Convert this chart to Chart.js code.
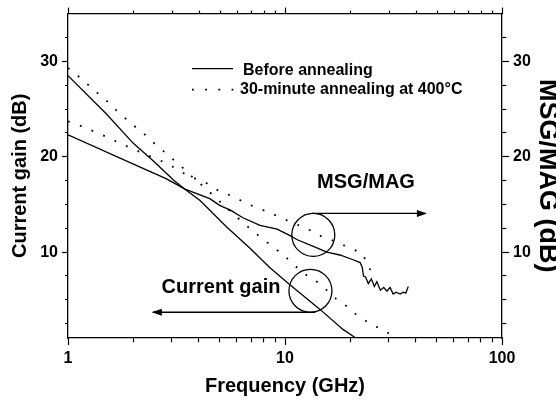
<!DOCTYPE html>
<html>
<head>
<meta charset="utf-8">
<script src="https://cdn.jsdelivr.net/npm/chart.js@4/dist/chart.umd.min.js"></script>
<style>
	body { margin: 0; background: #fff; }
	#wrap { width: 556px; height: 402px; }
</style>
</head>
<body>
<div id="wrap"><canvas id="gain" width="556" height="402"></canvas></div>
<script>
// values (GHz / dB)

var cgBeforeF = [1, 1.5, 2, 2.46, 3.08, 3.46, 4.06, 5.4, 6.9, 8.5, 10.5, 14.5, 18.5, 21.2];
var cgBeforeG = [28.5, 24.5, 21.4, 19.6, 17.5, 16.6, 15.4, 12.6, 10.4, 8.4, 6.6, 4.0, 1.9, 1.0];

var msgBeforeF = [1, 2.15, 2.83, 3.46, 4.5, 5.0, 5.6, 6.4, 7.67, 9.2, 10.6, 11.4, 13.5, 15.6, 17.9, 20.6, 22.2, 22.7, 23.0,
	23.5, 24.2, 25.0, 25.8, 26.5, 27.5, 28.5, 29.5, 30.5, 31.5, 32.5, 34, 35, 36, 37];
var msgBeforeG = [22.3, 18.9, 17.7, 16.6, 15.6, 14.9, 14.4, 13.6, 12.8, 12.4, 11.7, 11.3, 10.6, 10.0, 9.7, 9.2, 8.9, 8.4, 7.5,
	7.4, 6.7, 7.2, 6.4, 6.9, 6.0, 6.3, 5.9, 6.3, 5.6, 5.8, 5.6, 5.8, 5.7, 6.4];

var cgAfterF = [1, 1.15, 1.3, 1.5, 1.7, 1.95, 2.24, 2.54, 2.92, 3.32, 3.77, 4.3, 4.9, 6.4, 7.3, 8.4, 9.6, 10.8, 12.1, 13.7,
	15.6, 17.2, 19.3, 21.4, 23.9, 26.8, 29.5, 32.1];
var cgAfterG = [29.3, 28.2, 27.1, 25.9, 24.7, 23.5, 22.4, 21.25, 20.1, 19.0, 17.8, 16.7, 15.5, 13.1, 12.0, 10.9, 9.9, 8.85, 7.8, 7.1,
	6.0, 5.1, 4.3, 3.4, 2.7, 2.1, 1.6, 1.1];

var msgAfterF = [1, 1.15, 1.3, 1.5, 1.7, 1.95, 2.54, 2.92, 3.32, 3.77, 4.3, 4.9, 5.65, 6.4, 7.3, 8.4, 9.6, 11, 12.6, 14.1,
	16.1, 18.3, 20.6, 22.9, 24.1, 26.2];
var msgAfterG = [23.7, 23.2, 22.7, 22.1, 21.5, 20.9, 19.8, 19.2, 18.4, 17.8, 17.3, 16.5, 15.9, 15.3, 14.7, 14.2, 13.6, 13.0, 12.5, 11.8,
	11.35, 10.8, 10.3, 9.8, 8.4, 7.7];

var xTicks = [1, 2, 3, 4, 5, 6, 7, 8, 9, 10, 20, 30, 40, 50, 60, 70, 80, 90, 100];
var xLabels = [1, 10, 100];
var yTicks = [2.5, 5, 7.5, 10, 12.5, 15, 17.5, 20, 22.5, 25, 27.5, 30, 32.5];
var yLabels = [10, 20, 30];

var FONT = "'Liberation Sans', Arial, sans-serif";

function pts(fs, gs) {
	return fs.map((f, i) => ({x: f, y: gs[i]}));
}

function solid(label, fs, gs) {
	return {label: label, data: pts(fs, gs), borderColor: '#000', borderWidth: 1.3,
		pointRadius: 0, tension: 0, fill: false};
}

function dotted(label, fs, gs) {
	var d = solid(label, fs, gs);
	d.borderWidth = 1.8;
	d.borderDash = [1.8, 10.8];
	return d;
}

// chart.js draws left/top tick marks from the outer end inwards, bottom/right from the axis out
function minorDash(pos, len, minor) {
	return (pos == 'left' || pos == 'top') ? [0, len - minor, minor, 40] : [minor, 40];
}

function xAxis(pos, len, minor, labels, size) {
	return {
		type: 'logarithmic', position: pos, min: 1, max: 100,
		afterBuildTicks: (s) => { s.ticks = xTicks.map(v => ({value: v})); },
		afterFit: (s) => { s.height = size; },
		ticks: {autoSkip: false, maxRotation: 0, padding: 4, color: '#000',
			font: {family: FONT, size: 16, weight: 'bold'},
			callback: (v) => labels && xLabels.indexOf(v) >= 0 ? String(v) : ''},
		grid: {drawOnChartArea: false, tickLength: len, tickColor: '#000', tickWidth: 1.2,
			tickBorderDash: (c) => xLabels.indexOf(c.tick && c.tick.value) >= 0 ? [] : minorDash(pos, len, minor)},
		border: {color: '#000', width: 1.3}
	};
}

function yAxis(pos, len, minor, size) {
	return {
		type: 'linear', position: pos, min: 1, max: 35,
		afterBuildTicks: (s) => { s.ticks = yTicks.map(v => ({value: v})); },
		afterFit: (s) => { s.width = size; },
		ticks: {autoSkip: false, padding: 4, color: '#000',
			font: {family: FONT, size: 16, weight: 'bold'},
			callback: (v) => yLabels.indexOf(v) >= 0 ? String(v) : ''},
		grid: {drawOnChartArea: false, tickLength: len, tickColor: '#000', tickWidth: 1.2,
			tickBorderDash: (c) => yLabels.indexOf(c.tick && c.tick.value) >= 0 ? [] : minorDash(pos, len, minor)},
		border: {color: '#000', width: 1.3}
	};
}

// circles, arrows, labels and the little legend, placed in data units
var rings = [{f: 13.5, v: 11.8}, {f: 13.1, v: 5.94}];
var arrows = [{from: 13.3, to: 44.6, v: 14.06}, {from: 13.8, to: 2.46, v: 3.7}];

function arrowLine(ctx, x0, x1, y) {
	ctx.beginPath(); ctx.moveTo(x0, y); ctx.lineTo(x1, y); ctx.stroke();
	var d = x1 > x0 ? 1 : -1;
	ctx.beginPath();
	ctx.moveTo(x1 + d, y); ctx.lineTo(x1 - d * 9, y - 3.5); ctx.lineTo(x1 - d * 9, y + 3.5);
	ctx.closePath(); ctx.fill();
}

var overlay = {
	id: 'overlay',
	afterDatasetsDraw(chart) {
		var ctx = chart.ctx, x = chart.scales.x, y = chart.scales.y;
		var area = chart.chartArea;
		ctx.save();
		ctx.strokeStyle = '#000'; ctx.fillStyle = '#000'; ctx.lineWidth = 1.3;
		rings.forEach(r => {
			ctx.beginPath();
			ctx.arc(x.getPixelForValue(r.f), y.getPixelForValue(r.v), 21.5, 0, Math.PI * 2);
			ctx.stroke();
		});
		arrows.forEach(a => arrowLine(ctx, x.getPixelForValue(a.from), x.getPixelForValue(a.to), y.getPixelForValue(a.v)));

		ctx.textBaseline = 'alphabetic';
		ctx.textAlign = 'center';
		ctx.font = 'bold 20px ' + FONT;
		ctx.fillText('MSG/MAG', area.left + 298, area.top + 174);
		ctx.fillText('Current gain', area.left + 153, area.top + 279);

		// legend
		var lx = area.left + 124, ly = area.top + 55;
		ctx.beginPath(); ctx.moveTo(lx, ly); ctx.lineTo(lx + 41, ly); ctx.stroke();
		ctx.save();
		ctx.lineWidth = 1.8; ctx.setLineDash([1.8, 11.4]);
		ctx.beginPath(); ctx.moveTo(lx, ly + 21); ctx.lineTo(lx + 42, ly + 21); ctx.stroke();
		ctx.restore();
		ctx.textAlign = 'left';
		ctx.font = 'bold 16px ' + FONT;
		ctx.fillText('Before annealing', lx + 51, ly + 6);
		ctx.fillText('30-minute annealing at 400°C', lx + 48, ly + 25);
		ctx.restore();
	},
	afterDraw(chart) {
		// mirror ticks along the top frame
		var ctx = chart.ctx, x2 = chart.scales.x2, top = chart.chartArea.top;
		ctx.save();
		ctx.strokeStyle = '#000'; ctx.lineWidth = 1.2;
		xTicks.forEach(v => {
			var px = Math.round(x2.getPixelForValue(v)) + 0.5;
			var len = xLabels.indexOf(v) >= 0 ? 6 : 3;
			ctx.beginPath(); ctx.moveTo(px, top); ctx.lineTo(px, top - len); ctx.stroke();
		});
		ctx.restore();
	}
};

var cfgX = xAxis('bottom', 7, 4, true, 64);
cfgX.title = {display: true, text: 'Frequency (GHz)', color: '#000', padding: {top: 0, bottom: 4},
	font: {family: FONT, size: 20, weight: 'bold'}};
var cfgX2 = xAxis('top', 6, 3, false, 12);
cfgX2.grid.drawTicks = false;
var cfgY = yAxis('left', 6, 3, 68);
cfgY.title = {display: true, text: 'Current gain (dB)', color: '#000', padding: {top: 8, bottom: 0},
	font: {family: FONT, size: 20, weight: 'bold'}};
var cfgY2 = yAxis('right', 7, 4, 54);
cfgY2.title = {display: true, text: 'MSG/MAG (dB)', color: '#000', padding: {top: -5, bottom: 0},
	font: {family: FONT, size: 27, weight: 'bold', lineHeight: 1}};

new Chart(document.getElementById('gain'), {
	type: 'line',
	data: {
		datasets: [
			solid('Current gain, before annealing', cgBeforeF, cgBeforeG),
			solid('MSG/MAG, before annealing', msgBeforeF, msgBeforeG),
			dotted('Current gain, 30-minute annealing at 400°C', cgAfterF, cgAfterG),
			dotted('MSG/MAG, 30-minute annealing at 400°C', msgAfterF, msgAfterG)
		]
	},
	options: {
		responsive: false,
		animation: false,
		devicePixelRatio: 1,
		layout: {padding: 0},
		plugins: {legend: {display: false}, tooltip: {enabled: false}},
		scales: {x: cfgX, x2: cfgX2, y: cfgY, y2: cfgY2}
	},
	plugins: [overlay]
});
</script>
</body>
</html>
